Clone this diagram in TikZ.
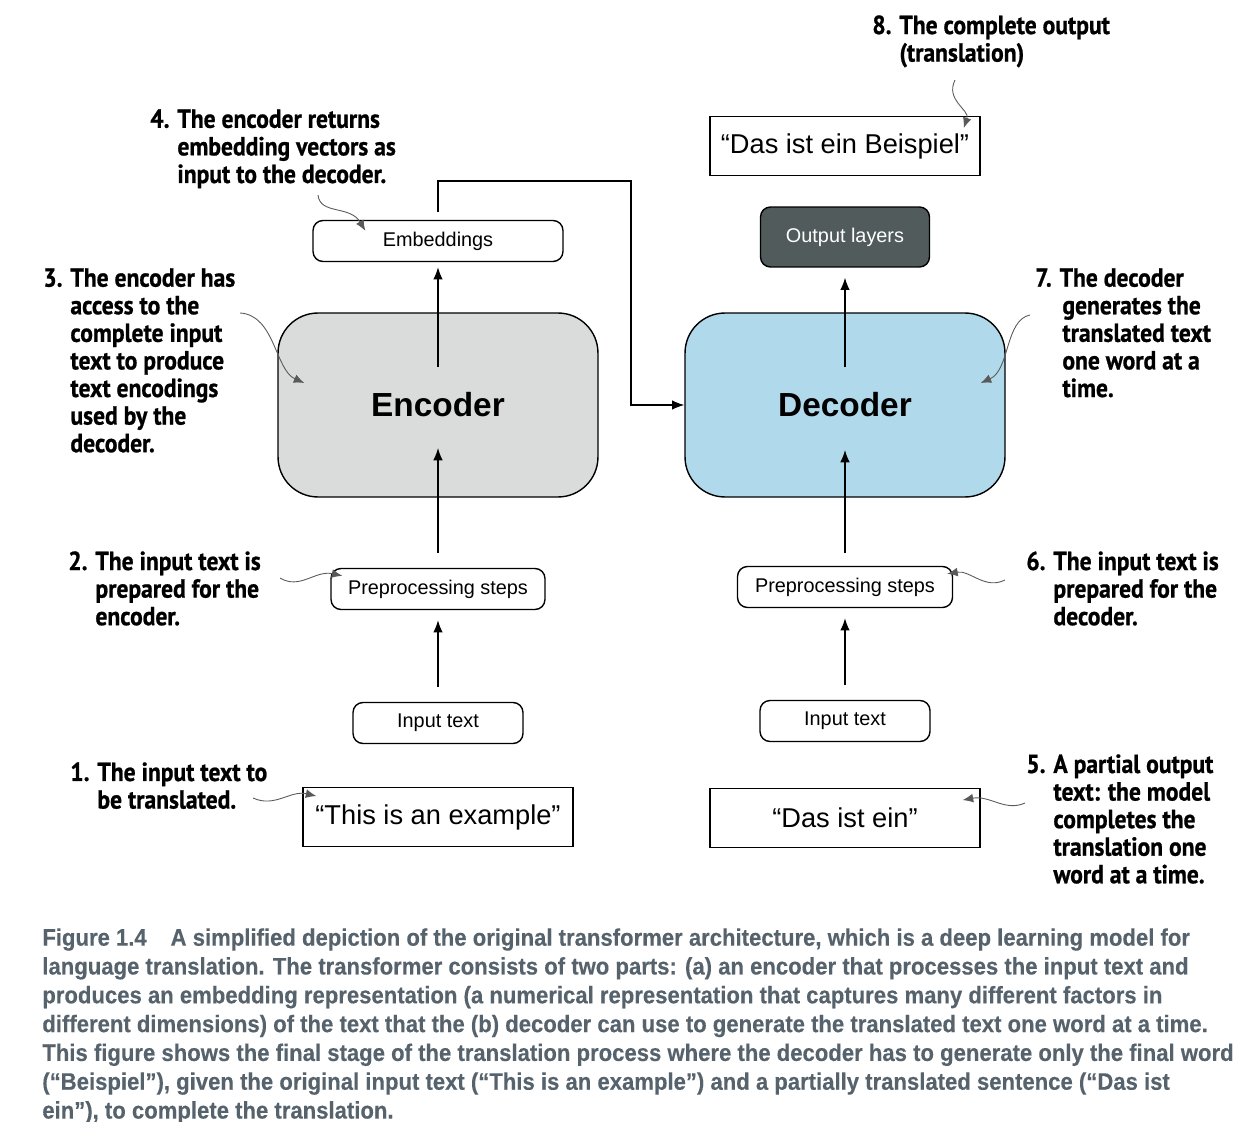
\documentclass[tikz,border=0pt]{standalone}
\usepackage{fontspec}
\setmainfont{Liberation Sans}
\newfontfamily\notefont[FakeStretch=0.9,BoldFeatures={FakeBold=0.8}]{PT Sans}
\newfontfamily\capfont[FakeStretch=0.925,FakeBold=0.3]{Liberation Sans Bold}
\usetikzlibrary{shapes,arrows.meta,positioning}
\definecolor{encgray}{HTML}{D9DCDB}
\definecolor{decblue}{HTML}{B0DAEC}
\definecolor{outgray}{HTML}{515B5B}
\definecolor{capgray}{HTML}{56636D}
\newcommand{\noteindent}{\phantom{0. }}
\tikzstyle{bigbox} = [rectangle,draw,line width=0.8pt,rounded corners=0.8cm,
  minimum width=6.4cm,minimum height=3.68cm,font=\fontsize{19}{22}\selectfont\bfseries]
\tikzstyle{smallbox} = [rectangle,draw,line width=0.8pt,rounded corners=0.2cm,
  minimum height=0.82cm,inner sep=0pt,font=\fontsize{11.3}{13}\selectfont]
\tikzstyle{quotebox} = [rectangle,draw,line width=0.8pt,minimum width=5.4cm,
  minimum height=1.17cm,inner sep=0pt,font=\fontsize{15.5}{18}\selectfont]
\tikzstyle{note} = [anchor=north west,align=left,inner sep=0pt,
  font=\notefont\bfseries\fontsize{14.9}{15.7}\selectfont]
\tikzstyle{flow} = [draw,line width=0.8pt,-{Latex[length=7pt,width=5.5pt]}]
\tikzstyle{pointer} = [draw,gray!70!black,line width=0.5pt,-{Latex[length=6pt,width=5pt]},
  shorten >=0pt]

\begin{document}
\begin{tikzpicture}[x=0.02cm,y=-0.02cm]
\useasboundingbox (0,0) rectangle (1252,1122);

% encoder side
\node [bigbox,fill=encgray] (enc) at (438,405) {Encoder};
\node [smallbox,minimum width=5cm] (emb) at (438,241) {Embeddings};
\node [smallbox,minimum width=4.28cm] (prel) at (438,589) {Preprocessing steps};
\node [smallbox,minimum width=3.4cm] (inl) at (438,723) {Input text};
\node [quotebox] (src) at (438,817) {“This is an example”};

% decoder side
\node [bigbox,fill=decblue] (dec) at (845,405) {Decoder};
\node [smallbox,fill=outgray,text=white,minimum width=3.38cm,
  minimum height=1.2cm] (outl) at (845,237) {Output layers};
\node [quotebox] (full) at (845,146) {“Das ist ein Beispiel”};
\node [smallbox,minimum width=4.3cm] (prer) at (845,587) {Preprocessing steps};
\node [smallbox,minimum width=3.4cm] (inr) at (845,721) {Input text};
\node [quotebox] (part) at (845,818) {“Das ist ein”};

% data flow
\draw [flow] ([yshift=0.3cm]inl.north) -- ([yshift=-0.2cm]prel.south);
\draw [flow] ([yshift=0.3cm]prel.north) -- ([yshift=-0.86cm]enc.center);
\draw [flow] ([yshift=0.76cm]enc.center) -- ([yshift=-0.1cm]emb.south);
\coordinate (turn) at (631,181);
\draw [flow] ([yshift=0.16cm]emb.north) |- (turn) |- (dec.west);
\draw [flow] ([yshift=0.3cm]inr.north) -- ([yshift=-0.2cm]prer.south);
\draw [flow] ([yshift=0.26cm]prer.north) -- ([yshift=-0.9cm]dec.center);
\draw [flow] ([yshift=0.76cm]dec.center) -- ([yshift=-0.2cm]outl.south);

% callouts
\node [note] (n1) at (70,762) {1. The input text to\\\noteindent be translated.};
\node [note] (n2) at (68,551) {2. The input text is\\\noteindent prepared for the\\\noteindent encoder.};
\node [note] (n3) at (43,268) {3. The encoder has\\\noteindent access to the\\\noteindent complete input\\
  \noteindent text to produce\\\noteindent text encodings\\\noteindent used by the\\\noteindent decoder.};
\node [note] (n4) at (150,109) {4. The encoder returns\\\noteindent embedding vectors as\\\noteindent input to the decoder.};
\node [note] (n5) at (1026,754) {5. A partial output\\\noteindent text: the model\\\noteindent completes the\\
  \noteindent translation one\\\noteindent word at a time.};
\node [note] (n6) at (1026,551) {6. The input text is\\\noteindent prepared for the\\\noteindent decoder.};
\node [note] (n7) at (1035,268) {7. The decoder\\\noteindent generates the\\\noteindent translated text\\
  \noteindent one word at a\\\noteindent time.};
\node [note] (n8) at (872,15) {8. The complete output\\\noteindent(translation)};

\coordinate (p1) at (253,798);
\coordinate (p2) at (280,578);
\coordinate (p3) at (240,313);
\coordinate (p4) at (318,195);
\coordinate (p5) at (1025,803);
\coordinate (p6) at (1005,580);
\coordinate (p7) at (1030,315);
\coordinate (p8) at (955,80);
\draw [pointer] (p1) .. controls (275,808) and (290,790) .. ([xshift=0.28cm,yshift=-0.18cm]src.north west);
\draw [pointer] (p2) .. controls (300,590) and (315,570) .. ([xshift=0.24cm,yshift=-0.16cm]prel.north west);
\draw [pointer] (p3) .. controls (275,315) and (275,370) .. ([xshift=0.54cm,yshift=0.44cm]enc.west);
\draw [pointer] (p4) .. controls (320,215) and (350,205) .. ([xshift=1.06cm,yshift=-0.22cm]emb.north west);
\draw [pointer] (p5) .. controls (1005,812) and (990,795) .. ([xshift=-0.36cm,yshift=-0.24cm]part.north east);
\draw [pointer] (p6) .. controls (985,590) and (970,570) .. ([xshift=-0.12cm,yshift=-0.16cm]prer.north east);
\draw [pointer] (p7) .. controls (1005,320) and (1010,370) .. ([xshift=-0.5cm,yshift=0.44cm]dec.east);
\draw [pointer] (p8) .. controls (945,100) and (970,110) .. ([xshift=-0.34cm,yshift=-0.24cm]full.north east);

% caption
\node [anchor=north west,align=left,inner sep=0pt,text=capgray,
  font=\capfont\fontsize{13.6}{16.4}\selectfont] (cap) at (42,928)
  {Figure 1.4\hspace{1.0em}A simplified depiction of the original transformer architecture, which is a deep learning model for\\
  language translation. The transformer consists of two parts: (a) an encoder that processes the input text and\\
  produces an embedding representation (a numerical representation that captures many different factors in\\
  different dimensions) of the text that the (b) decoder can use to generate the translated text one word at a time.\\
  This figure shows the final stage of the translation process where the decoder has to generate only the final word\\
  (“Beispiel”), given the original input text (“This is an example”) and a partially translated sentence (“Das ist\\
  ein”), to complete the translation.};
\end{tikzpicture}
\end{document}
